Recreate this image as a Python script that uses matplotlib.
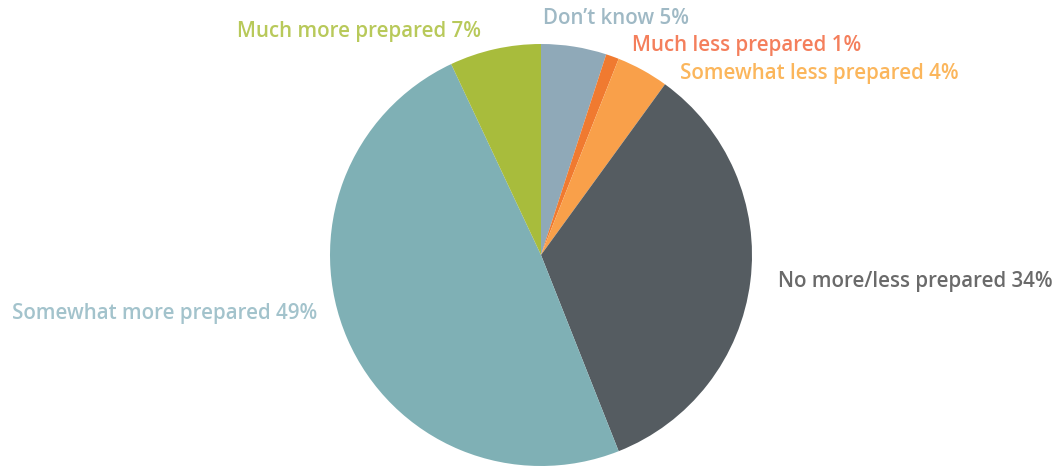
import matplotlib
matplotlib.use("Agg")
import matplotlib.pyplot as plt

categories = ["Don\u2019t know", "Much less prepared", "Somewhat less prepared",
              "No more/less prepared", "Somewhat more prepared", "Much more prepared"]
values = [5, 1, 4, 34, 49, 7]
slice_colors = ["#8fa9b8", "#f07a30", "#f9a04a", "#555c61", "#7fb0b5", "#a8bc3c"]
text_colors = ["#9fb9c5", "#f47f5c", "#fbb65c", "#6a6a6a", "#a3c3cc", "#b8c95a"]
# label anchor positions (pixels: left x, center y from top)
label_pos = [(543, 19), (632, 46), (680, 74), (778, 282), (12, 313), (237, 31)]

W, H = 1053, 468
fig = plt.figure(figsize=(W / 100, H / 100), dpi=100)
cx, cy, r = 541, 255, 211
ax = fig.add_axes([(cx - r) / W, (H - cy - r) / H, 2 * r / W, 2 * r / H])
ax.pie(values, colors=slice_colors, startangle=90, counterclock=False,
       radius=1, wedgeprops=dict(linewidth=0))
ax.set_xlim(-1, 1)
ax.set_ylim(-1, 1)
ax.set_aspect("equal")
ax.axis("off")

for cat, v, col, (x, y) in zip(categories, values, text_colors, label_pos):
    fig.text(x / W, 1 - y / H, f"{cat} {v}%", color=col, ha="left", va="center",
             fontsize=14.8, fontweight="semibold", family=["Open Sans", "DejaVu Sans"])

fig.savefig("out.png", dpi=100, facecolor="white")
